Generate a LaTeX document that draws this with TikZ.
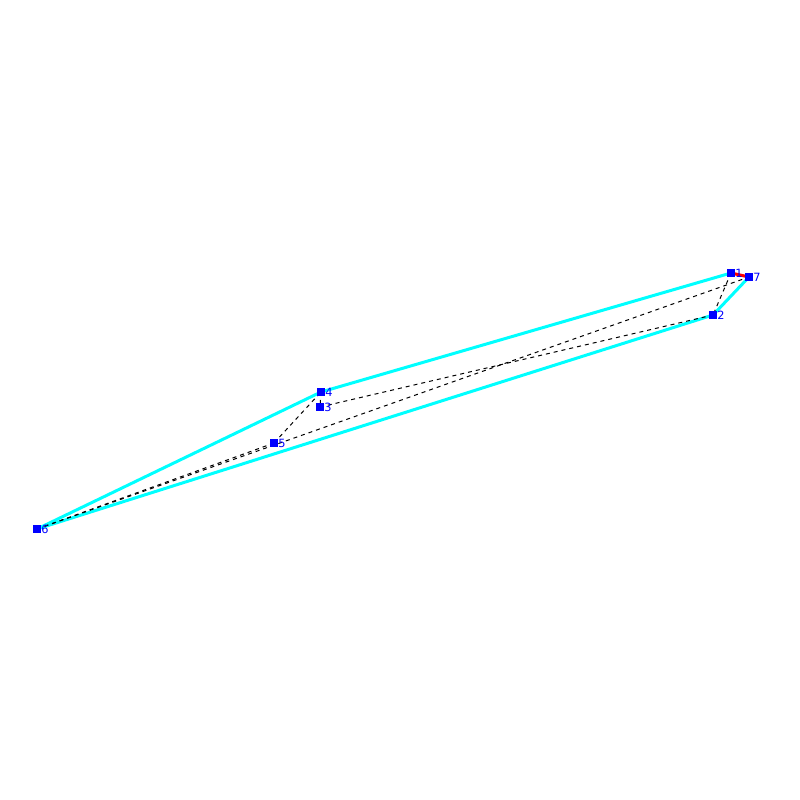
\documentclass[tikz,border=0pt]{standalone}
\usepackage{fontspec}
\setmainfont{DejaVu Sans}
\definecolor{aqua}{RGB}{0,255,255}
\definecolor{pblue}{RGB}{0,0,255}
\definecolor{pred}{RGB}{255,0,0}
\begin{document}
\begin{tikzpicture}[x=0.75pt,y=-0.75pt,
  hull/.style={aqua, line width=2.25pt, line join=round},
  tri/.style={black, line width=0.75pt, dash pattern=on 3pt off 3pt},
  redge/.style={pred, line width=2.25pt},
  pt/.style={fill=pblue, minimum size=5.5pt, inner sep=0pt, draw=none, rectangle},
  lbl/.style={text=pblue, font=\fontsize{8.5}{8.5}\selectfont, anchor=west, inner sep=0pt}]
\useasboundingbox (0,0) rectangle (800,800);
\coordinate (c1) at (731,273);
\coordinate (c7) at (749,277);
\coordinate (c2) at (713,315);
\coordinate (c4) at (321,392);
\coordinate (c3) at (320,407);
\coordinate (c5) at (274,443);
\coordinate (c6) at (37,529);
% convex hull
\draw[hull] (c6) -- (c4) -- (c1);
\draw[hull] (c7) -- (c2) -- (c6);
% dashed edges
\draw[tri] (c6) -- (c5);
\draw[tri] (c6) -- (c7);
\draw[tri] (c5) -- (c4);
\draw[tri] (c4) -- (c3);
\draw[tri] (c3) -- (c2);
\draw[tri] (c1) -- (c2);
% red edge
\draw[redge] (c1) -- (c7);
% markers
\foreach \i in {1,...,7} {
  \node[pt] (p\i) at (c\i) {};
  \node[lbl] (l\i) at ([xshift=3pt]c\i) {\i};
}
\end{tikzpicture}
\end{document}
